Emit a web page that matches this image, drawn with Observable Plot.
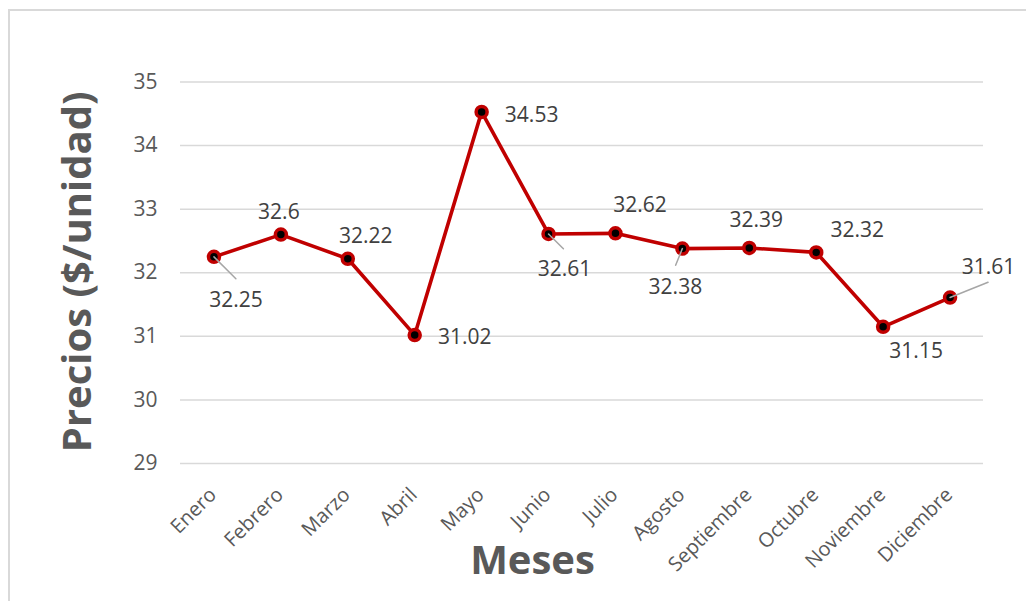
<!DOCTYPE html>
<html>
<head>
<meta charset="utf-8">
<script src="https://cdn.jsdelivr.net/npm/d3@7"></script>
<script src="https://cdn.jsdelivr.net/npm/@observablehq/plot@0.6"></script>
<style>
  html, body { margin: 0; padding: 0; background: #fff; overflow: hidden; }
  #wrap { position: relative; width: 1026px; height: 601px; overflow: hidden; }
  #frame { position: absolute; left: 8px; top: 9px; width: 1100px; height: 700px;
           border-top: 2px solid #d9d9d9; border-left: 2px solid #d9d9d9; }
  #chart { position: absolute; left: 0; top: 0; }
</style>
</head>
<body>
<div id="wrap"><div id="frame"></div><div id="chart"></div></div>
<script>
// ---- data ----
const months = ["Enero","Febrero","Marzo","Abril","Mayo","Junio","Julio","Agosto","Septiembre","Octubre","Noviembre","Diciembre"];
const prices = [32.25, 32.6, 32.22, 31.02, 34.53, 32.61, 32.62, 32.38, 32.39, 32.32, 31.15, 31.61];
const yTicks = [29, 30, 31, 32, 33, 34, 35];
const yTitle = "Precios ($/unidad)";
const xTitle = "Meses";

// ---- label placement (pixel offsets from each point) ----
const labelDx = [22, -2, 18, 50, 50, 16, 24.5, -7, 7, 41, 33, 38.5];
const labelDy = [42, -23.5, -23.5, 1, 2, 34.5, -29, 38, -29, -23.5, 23, -31.5];
// leader lines: [index, length px, angle deg clockwise from up]
const leaders = [[0, 31, 135], [5, 21, 135], [7, 18, 202], [11, 41, 68]];

const data = months.map((m, i) => ({month: m, price: prices[i], i}));
const lineShape = {draw(ctx, l) { ctx.moveTo(0, 0); ctx.lineTo(0, -l); }};

const red = "#C00000";
const plot = Plot.plot({
  width: 1026,
  height: 601,
  marginLeft: 180,
  marginRight: 43,
  marginTop: 81.5,
  marginBottom: 138,
  style: {fontFamily: "'Open Sans', sans-serif", fontSize: "20px", color: "#595959", background: "transparent", overflow: "visible"},
  x: {type: "point", domain: months, padding: 0.5, round: false, axis: null},
  y: {domain: [29, 35], axis: null},
  marks: [
    Plot.ruleY(yTicks, {stroke: "#d9d9d9", strokeWidth: 1.5}),
    Plot.text(yTicks, {y: d => d, frameAnchor: "left", textAnchor: "end", lineAnchor: "middle", dx: -23, dy: 0, text: d => String(d), fill: "#595959", fontSize: 21}),
    Plot.line(data, {x: "month", y: "price", stroke: red, strokeWidth: 3.6}),
    Plot.dot(data, {x: "month", y: "price", r: 5.5, fill: "black", stroke: red, strokeWidth: 3.5}),
    ...leaders.map(([i, len, ang]) =>
      Plot.vector([data[i]], {x: "month", y: "price", length: len, rotate: ang, anchor: "start", shape: lineShape, stroke: "#a6a6a6", strokeWidth: 1.5})),
    ...data.map((d, i) =>
      Plot.text([d], {x: "month", y: "price", text: dd => String(dd.price), dx: labelDx[i], dy: labelDy[i] + 1, fill: "#404040", fontSize: 21})),
    Plot.text(months, {x: d => d, frameAnchor: "bottom", text: d => d, rotate: -45, textAnchor: "end", lineAnchor: "middle", dx: -1, dy: 28, fill: "#595959", fontSize: 20}),
    Plot.text([yTitle], {frameAnchor: "left", text: d => d, rotate: -90, textAnchor: "middle", dx: -102, dy: -1, fontSize: 40, fontWeight: "bold", fill: "#595959"}),
    Plot.text([xTitle], {frameAnchor: "bottom", text: d => d, textAnchor: "middle", dx: -49.5, dy: 110, fontSize: 40, fontWeight: "bold", fill: "#595959"})
  ]
});
document.getElementById("chart").appendChild(plot);
</script>
</body>
</html>
